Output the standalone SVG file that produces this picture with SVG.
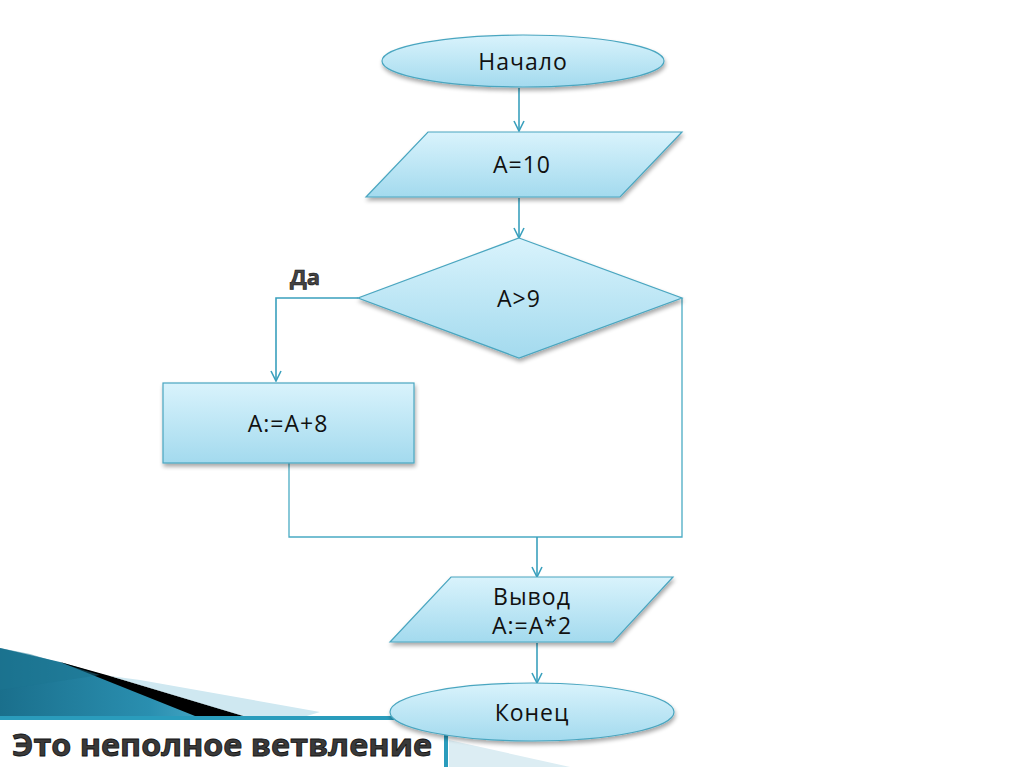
<svg xmlns="http://www.w3.org/2000/svg" width="1024" height="767" viewBox="0 0 1024 767">
<defs>
<linearGradient id="fillG" x1="0" y1="0" x2="0" y2="1">
<stop offset="0" stop-color="#d9f3fc"/>
<stop offset="1" stop-color="#a3daee"/>
</linearGradient>
<linearGradient id="tealG" x1="0" y1="0" x2="1" y2="0">
<stop offset="0" stop-color="#1a6f8c"/>
<stop offset="0.6" stop-color="#2a8fb0"/>
<stop offset="1" stop-color="#5cbad6"/>
</linearGradient>
<filter id="sh" x="-10%" y="-10%" width="120%" height="130%">
<feGaussianBlur in="SourceAlpha" stdDeviation="2"/>
<feOffset dx="1" dy="3" result="b"/>
<feComponentTransfer><feFuncA type="linear" slope="0.35"/></feComponentTransfer>
<feMerge><feMergeNode/><feMergeNode in="SourceGraphic"/></feMerge>
</filter>
<marker id="arr" viewBox="0 0 12 12" refX="11" refY="6" markerWidth="12" markerHeight="12" markerUnits="userSpaceOnUse" orient="auto">
<path d="M1,1 L11,6 L1,11" fill="none" stroke="#3aa0bd" stroke-width="1.6"/>
</marker>
</defs>
<style>
.shape{fill:url(#fillG);stroke:#4aa6c0;stroke-width:1.2;filter:url(#sh)}
.lbl{font-family:"Open Sans","DejaVu Sans",sans-serif;font-size:23px;letter-spacing:1px;fill:#111;text-anchor:middle;dominant-baseline:central}
.line{fill:none;stroke:#4aabc4;stroke-width:1.3}
.arrow{fill:none;stroke:#3aa0bd;stroke-width:1.6;marker-end:url(#arr)}
</style>
<rect width="1024" height="767" fill="#ffffff"/>

<g id="decor">
<polygon points="0,648 60,662 250,718 0,718" fill="url(#tealG)"/>
<polygon points="60,662 110,676 250,718 200,718" fill="#000"/>
<polygon points="110,676 300,718 250,718" fill="#1a1a1a"/>
<polygon points="110,676 140,680 320,712 300,718 250,718" fill="#cfe8f1"/>
<polygon points="0,648 30,654 100,675 0,690" fill="#1c7592" opacity="0.5"/>
<rect x="0" y="716" width="446" height="4" fill="#2a9cbc"/>
<rect x="444" y="716" width="4" height="51" fill="#2a9cbc"/>
<polygon points="449,740 570,767 449,767" fill="#dcedf3"/>
<text x="12" y="756" font-family="'Open Sans','DejaVu Sans',sans-serif" font-weight="bold" font-size="30" fill="#3a3a3a" stroke="#111" stroke-width="0.8" textLength="420" lengthAdjust="spacingAndGlyphs">Это неполное ветвление</text>
</g>

<g id="connectors">
<line class="arrow" x1="519" y1="88" x2="519" y2="131"/>
<line class="arrow" x1="519" y1="198" x2="519" y2="238"/>
<polyline class="arrow" points="358,298 276,298 276,381"/>
<polyline class="line" points="682,298 682,537 289,537 289,463"/>
<line class="arrow" x1="537" y1="537" x2="537" y2="577"/>
<line class="arrow" x1="537" y1="643" x2="537" y2="683"/>
<text x="305" y="276" font-family="'Open Sans','DejaVu Sans',sans-serif" font-weight="bold" font-size="22" fill="#444" stroke="#111" stroke-width="0.6" text-anchor="middle" dominant-baseline="central">Да</text>
</g>

<g id="start">
<ellipse class="shape" cx="523" cy="61" rx="141" ry="26"/>
<text class="lbl" x="523" y="61">Начало</text>
</g>

<g id="input">
<polygon class="shape" points="428,132 682,132 620,197 366,197"/>
<text class="lbl" x="522" y="164">A=10</text>
</g>

<g id="decision">
<polygon class="shape" points="519,238 682,298 519,358 358,298"/>
<text class="lbl" x="519" y="298">A&gt;9</text>
</g>

<g id="process">
<rect class="shape" x="163" y="383" width="251" height="80"/>
<text class="lbl" x="288" y="423">A:=A+8</text>
</g>

<g id="output">
<polygon class="shape" points="451,577 673,577 613,642 390,642"/>
<text class="lbl" x="532" y="596">Вывод</text>
<text class="lbl" x="532" y="625">A:=A*2</text>
</g>

<g id="end">
<ellipse class="shape" cx="532" cy="712" rx="142" ry="29"/>
<text class="lbl" x="532" y="712">Конец</text>
</g>
</svg>
